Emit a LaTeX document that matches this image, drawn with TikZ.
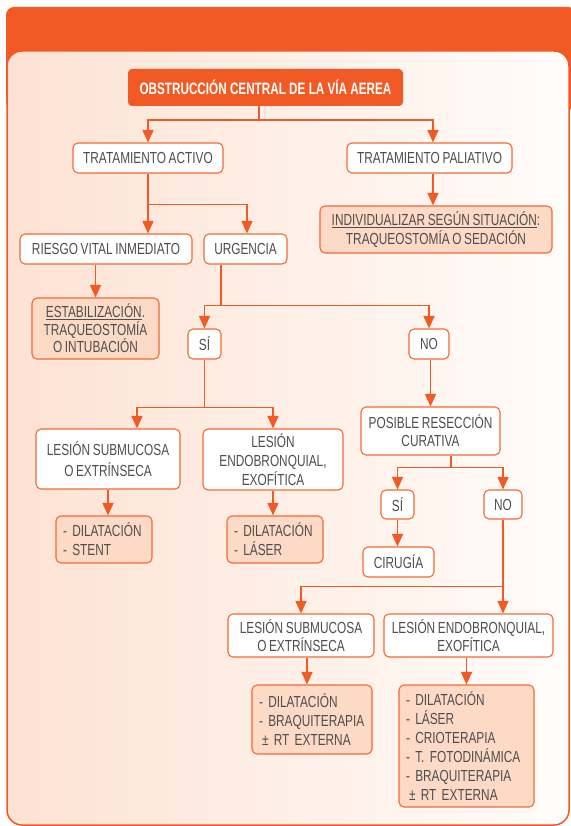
\documentclass[tikz,border=0pt]{standalone}
\usepackage{fontspec}
\newfontfamily\cnd[FakeStretch=0.74,WordSpace=0.8]{Liberation Sans}
\newfontfamily\cndhead[FakeStretch=0.71]{Liberation Sans}
\usetikzlibrary{arrows.meta,calc}
\definecolor{brand}{HTML}{F15A24}
\definecolor{edge}{HTML}{F26A35}
\definecolor{soft}{HTML}{FCDAC5}
\definecolor{ink}{HTML}{4E4E50}
\definecolor{panelL}{HTML}{FDE2D3}
\definecolor{panelR}{HTML}{FFFCFA}

\begin{document}
\begin{tikzpicture}[x=1pt,y=-1pt,
  sz/.style 2 args={minimum width=#1pt,minimum height=#2pt},
  box/.style={draw=edge, line width=1.1pt, rounded corners=5pt, fill=white,
    text=ink, font=\cnd\fontsize{16}{19}\selectfont, align=center, inner sep=0pt},
  outcome/.style={box, fill=soft},
  ln/.style={draw=brand, line width=1.5pt},
  arr/.style={ln, -{Triangle[width=11pt,length=12.5pt]}},
]
\useasboundingbox (0,0) rectangle (570,826);

% frame: orange header band and shaded panel
\fill[brand, rounded corners=8pt] (6,7) rectangle (576,110);
\path[left color=panelL, right color=panelR, draw=brand, line width=1.5pt,
      rounded corners=15pt] (7,51) rectangle (569,825);

% title
\node[fill=brand, rounded corners=4pt, text=white, inner sep=0pt, sz={275}{37},
      font=\cndhead\bfseries\fontsize{16.5}{18}\selectfont] (title) at (265.5,87.5)
      {OBSTRUCCIÓN CENTRAL DE LA VÍA AEREA};

% first level
\node[box, sz={150}{30}] (ta) at (148,158) {TRATAMIENTO ACTIVO};
\node[box, sz={165}{30}] (tp) at (429.5,158) {TRATAMIENTO PALIATIVO};
\node[outcome, sz={232}{47}] (ind) at (436,229.5)
  {\underline{INDIVIDUALIZAR SEGÚN SITUACIÓN}:\\TRAQUEOSTOMÍA O SEDACIÓN};

% active treatment
\node[box, sz={172}{30}] (rv) at (106,249) {RIESGO VITAL INMEDIATO};
\node[box, sz={83}{30}] (urg) at (245.5,249) {URGENCIA};
\node[outcome, sz={127}{61}, font=\cnd\fontsize{16}{17.5}\selectfont] (est) at (95.5,328.5)
  {\underline{ESTABILIZACIÓN}.\\TRAQUEOSTOMÍA\\O INTUBACIÓN};
\node[box, sz={33}{30}] (si1) at (204.5,344) {SÍ};
\node[box, sz={40}{30}] (no1) at (429,344) {NO};

% urgent branch
\node[box, sz={144}{60}, font=\cnd\fontsize{16}{21}\selectfont] (sub1) at (108,459)
  {LESIÓN SUBMUCOSA\\O EXTRÍNSECA};
\node[box, sz={140}{61}] (endo1) at (273,459.5) {LESIÓN\\ENDOBRONQUIAL,\\EXOFÍTICA};
\node[outcome, sz={96}{47}, text width=82pt, align=left] (ds) at (104,539.5)
  {- DILATACIÓN\\- STENT};
\node[outcome, sz={96}{47}, text width=82pt, align=left] (dl) at (275,539.5)
  {- DILATACIÓN\\- LÁSER};

% non-urgent branch
\node[box, sz={139}{48}, font=\cnd\fontsize{16}{18}\selectfont] (pos) at (430.5,431)
  {POSIBLE RESECCIÓN\\CURATIVA};
\node[box, sz={33}{29}] (si2) at (397.5,504.5) {SÍ};
\node[box, sz={38}{29}] (no2) at (503,504.5) {NO};
\node[box, sz={71}{30}] (cir) at (398.5,562) {CIRUGÍA};
\node[box, sz={146}{43}, font=\cnd\fontsize{16}{18.5}\selectfont] (sub2) at (301,635.5)
  {LESIÓN SUBMUCOSA\\O EXTRÍNSECA};
\node[box, sz={169}{43}, font=\cnd\fontsize{16}{18.5}\selectfont] (endo2) at (468.5,635.5)
  {LESIÓN ENDOBRONQUIAL,\\EXOFÍTICA};
\node[outcome, sz={120}{69}, text width=106pt, align=left] (l2a) at (312,719.5)
  {- DILATACIÓN\\- BRAQUITERAPIA\\\hspace*{3pt}± RT EXTERNA};
\node[outcome, sz={135}{122}, text width=121pt, align=left] (l2b) at (466.5,746)
  {- DILATACIÓN\\- LÁSER\\- CRIOTERAPIA\\- T. FOTODINÁMICA\\- BRAQUITERAPIA\\\hspace*{3pt}± RT EXTERNA};

% connectors
\draw[ln] ([xshift=-6.5pt]title.south) -- ++(0,14) coordinate (j0);
\draw[arr] (j0) -| (ta.north);
\draw[arr] (j0) -| ([xshift=3.5pt]tp.north);
\draw[arr] ([xshift=3.5pt]tp.south) -- ([xshift=3.5pt]tp.south |- ind.north);

\draw[ln] (ta.south) -- ++(0,31) coordinate (j1);
\draw[arr] (j1) -- (j1 |- rv.north);
\draw[arr] (j1) -| ([xshift=1.5pt]urg.north);
\draw[arr] (est.north |- rv.south) -- (est.north);

\draw[ln] ([xshift=-24.5pt]urg.south) -- ++(0,41) coordinate (j2);
\draw[arr] (j2) -| (si1.north);
\draw[arr] (j2) -| (no1.north);

\draw[ln] (si1.south) -- ++(0,48) coordinate (j3);
\draw[arr] (j3) -| ([xshift=29pt]sub1.north);
\draw[arr] (j3) -| (endo1.north);
\draw[arr] (sub1.south) -- (sub1.south |- ds.north);
\draw[arr] (endo1.south) -- (endo1.south |- dl.north);

\draw[arr] ([xshift=1.5pt]no1.south) -- ([xshift=1.5pt]no1.south |- pos.north);
\draw[ln] ([xshift=20.5pt]pos.south) -- ++(0,12) coordinate (j4);
\draw[arr] (j4) -| (si2.north);
\draw[arr] (j4) -| (no2.north);
\draw[arr] (si2.south) -- (si2.south |- cir.north);

\draw[arr] (no2.south) -- (no2.south |- endo2.north);
\path (no2.south) ++(0,67) coordinate (j5);
\draw[arr] (j5) -| (sub2.north);
\draw[arr] ([xshift=6pt]sub2.south) -- ([xshift=6pt]sub2.south |- l2a.north);
\draw[arr] (l2b.north |- endo2.south) -- (l2b.north);
\end{tikzpicture}
\end{document}
